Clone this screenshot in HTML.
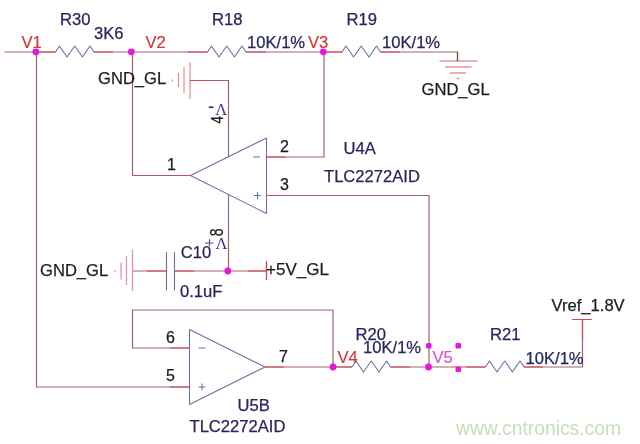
<!DOCTYPE html>
<html><head><meta charset="utf-8">
<style>
html,body{margin:0;padding:0;background:#fff;}
svg{display:block;font-family:"Liberation Sans",sans-serif;}
.w{stroke:#a66264;stroke-width:1.2;fill:none}
.p{stroke:#d04a54;stroke-width:1.2;fill:none}
.g{stroke:#e4969e;stroke-width:1.3;fill:none}
.c{stroke:#6e6ea8;stroke-width:1.1;fill:none;stroke-linejoin:round}
.d{fill:#e418e0}
.b{fill:#26265e;stroke:#26265e;stroke-width:.25}
.r{fill:#cc3a36;stroke:#cc3a36;stroke-width:.2}
.k{fill:#1c1c1c;stroke:#1c1c1c;stroke-width:.25}
.m{fill:#d656d2;stroke:#d656d2;stroke-width:.2}
</style></head><body>
<svg width="640" height="444" viewBox="0 0 640 444">
<rect width="640" height="444" fill="#fff"/>
<defs><filter id="soft" x="0" y="0" width="640" height="444" filterUnits="userSpaceOnUse"><feGaussianBlur stdDeviation="0.45"/></filter></defs>
<g filter="url(#soft)">
<!-- top wire -->
<path class="w" d="M4.5 52H55.500M94 52H207.500M246 52H342M380.5 52H457.500V61"/>
<path class="c" d="M55.5 52L59.5 46L67 57L74.75 46L82.5 57L90 46L94 52"/>
<path class="c" d="M207.5 52L211.5 46L219 57L226.75 46L234.5 57L242 46L246 52"/>
<path class="c" d="M342 52L346 46L353.5 57L361.25 46L369 57L376.5 46L380.5 52"/>
<!-- ground right -->
<path class="g" d="M439.5 61H477.500M445 67H471.500M449.5 73H466M456.5 78.500H459.5"/>
<!-- V1 down -->
<path class="w" d="M36.5 52V387H190"/>
<!-- V2 down -->
<path class="w" d="M132.5 52V175.500H190.5"/>
<!-- U4A -->
<path class="c" d="M190.5 175.500L266.5 138V213.500Z"/>
<path class="w" d="M267 157H324V52"/>
<path class="w" d="M267 195.500H429V367"/>
<path class="w" d="M228.5 130V80.500H190"/>
<path class="c" d="M228.5 157V130"/>
<path class="g" d="M190 62V99M184 67V93M178.5 73V87M172.5 79.500V81.5"/>
<path class="c" d="M228.5 194V228"/>
<path class="w" d="M228.5 228V271"/>
<!-- cap row -->
<path class="w" d="M174.5 271H267M266.5 261.500V280M132.5 271H166.5"/>
<path class="c" d="M166.5 252V290.500M174.5 252V290.5"/>
<path class="g" d="M132.5 249.500V291M126.5 256V285M121 262.500V279.500M115 270V272"/>
<!-- U5B -->
<path class="c" d="M189.5 329.500L265 367L189.5 404.500Z"/>
<path class="w" d="M189.5 348H132.500V310H333V367"/>
<path class="w" d="M265 367H352M390.5 367H485.500M524 367H582.500V319.500M572 319.500H591.5"/>
<path class="c" d="M352 367L356 361L363.5 372L371.25 361L379 372L386.5 361L390.5 367"/>
<path class="c" d="M485.5 367L489.5 361L497 372L504.75 361L512.5 372L520 361L524 367"/>
<path class="p" d="M36.5 52H55.500M94 52H113M188 52H207.500M246 52H266M323 52H342M380.5 52H400M333 367H352M390.5 367H410M466 367H485.500M524 367H543M171 175.500H190.500M267 157H286M267 195.500H286M170 348H189.500M170 387H189.500M265 367H284M147 271H166.500M174.5 271H194M248 271H267M266.5 261.500V280M582.5 319.500V340M572 319.500H591.500M190 80.500H210"/>
<path d="M457.5 52V61" stroke="#6a5050" stroke-width="1.2" fill="none"/>
<!-- dots -->
<circle class="d" cx="35.8" cy="51.8" r="3.4"/>
<circle class="d" cx="131.3" cy="51.8" r="3.4"/>
<circle class="d" cx="323.3" cy="51.8" r="3.4"/>
<circle class="d" cx="227.8" cy="271" r="3.4"/>
<circle class="d" cx="333" cy="367" r="3.4"/>
<circle class="d" cx="428.5" cy="367" r="3.4"/>
<rect class="d" x="426" y="343" width="5.5" height="5.5" rx="1.5"/>
<rect class="d" x="455.5" y="343" width="5.5" height="5.5" rx="1"/>
<rect class="d" x="455.5" y="366.5" width="5.5" height="5.5" rx="1"/>
<!-- +/- -->
<path class="c" d="M253 157H260M254 195.500H261M257.5 192V199"/>
<path class="c" d="M198.5 348H205.500M198.5 387H205.500M202 383.500V390.5"/>
<!-- text -->
<g font-size="16.6">
<text class="b" x="60" y="25">R30</text>
<text class="b" x="94" y="38.5">3K6</text>
<text class="r" x="21.5" y="47.5">V1</text>
<text class="r" x="145.5" y="47.5">V2</text>
<text class="b" x="212" y="25">R18</text>
<text class="b" x="247" y="48">10K/1%</text>
<text class="r" x="308" y="48">V3</text>
<text class="b" x="346.5" y="25">R19</text>
<text class="b" x="382" y="47.5">10K/1%</text>
<text class="k" x="421.5" y="95">GND_GL</text>
<text class="k" x="98" y="84">GND_GL</text>
<text class="k" x="40" y="276">GND_GL</text>
<text class="k" x="266" y="275.3" font-size="17">+5V_GL</text>
<text class="b" x="180.7" y="258">C10</text>
<text class="b" x="180" y="296.5">0.1uF</text>
<text class="b" x="343.5" y="154">U4A</text>
<text class="b" x="324" y="182">TLC2272AID</text>
<text class="b" x="237.5" y="411">U5B</text>
<text class="b" x="189.5" y="432">TLC2272AID</text>
<text class="b" x="355.5" y="340.3">R20</text>
<text class="b" x="363" y="353.3">10K/1%</text>
<text class="b" x="490" y="340.3">R21</text>
<text class="b" x="525.5" y="363.5">10K/1%</text>
<text class="r" x="337.5" y="362.7">V4</text>
<text class="m" x="432.5" y="363">V5</text>
<text class="k" x="551.5" y="311.3">Vref_1.8V</text>
</g>
<g font-size="16" class="k">
<text x="167" y="170">1</text>
<text x="280" y="152">2</text>
<text x="280" y="190">3</text>
<text x="166" y="343">6</text>
<text x="166" y="381">5</text>
<text x="279" y="361.5">7</text>
<text transform="translate(223,123.6) rotate(-90) scale(.78,1)" font-size="17">4</text>
<text transform="translate(223.3,236.2) rotate(-90) scale(.8,1)" font-size="17.5">8</text>
</g>
<g fill="#3a3490" font-family="'Liberation Serif',serif" font-size="16.5">
<text x="215.2" y="114.8">Λ</text>
<text x="215.5" y="248.5">Λ</text>
</g>
<path d="M208.8 107.200H213.5" stroke="#2a2a70" stroke-width="1.6" fill="none"/>
<path d="M205 243H213.500M209.5 239.300V246.5" stroke="#5252a0" stroke-width="1.2" fill="none"/>
<text x="456" y="434.5" font-size="19.3" fill="#c4e0b8">www.cntronics.com</text>
</g>
</svg>
</body></html>
